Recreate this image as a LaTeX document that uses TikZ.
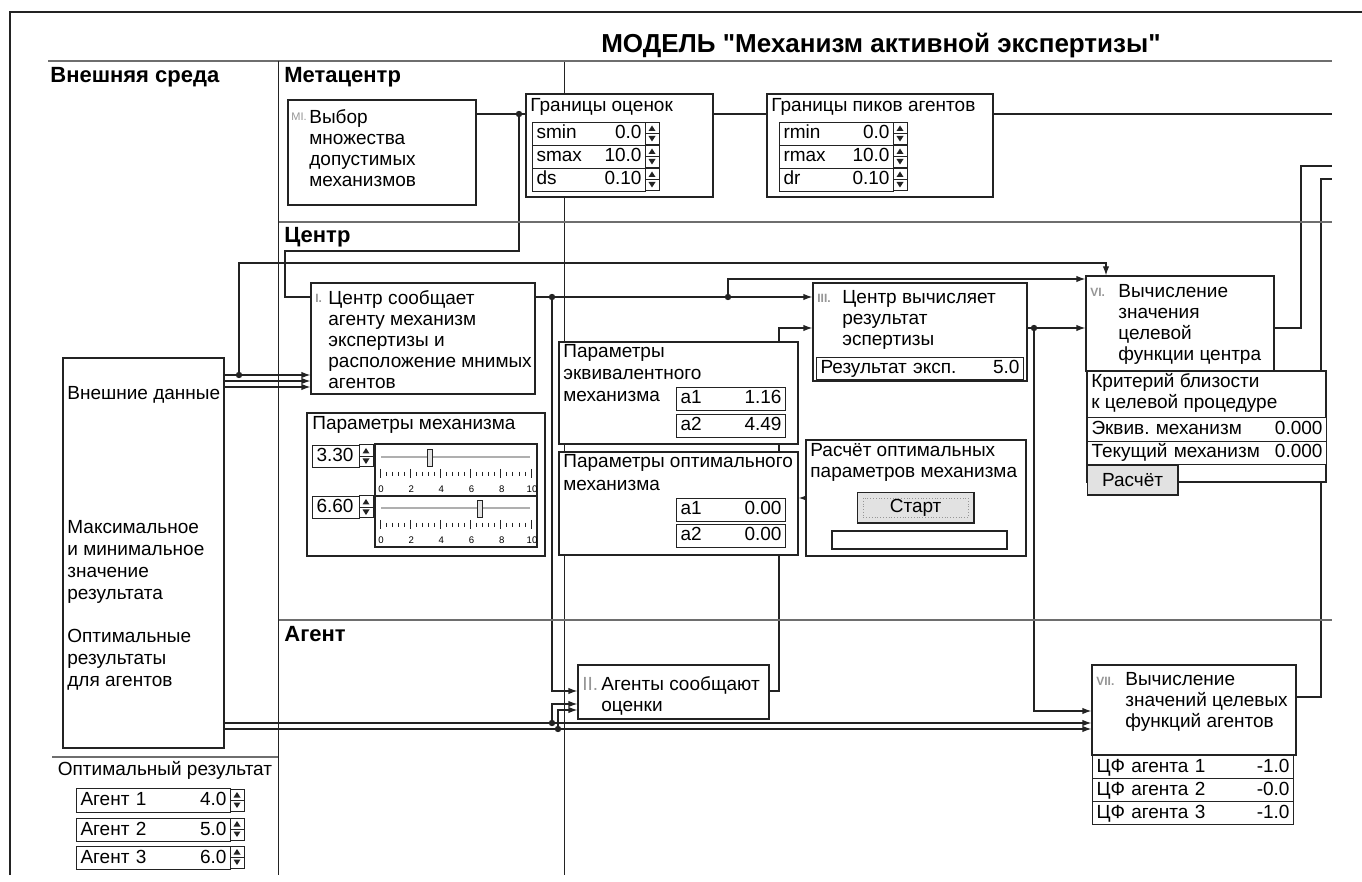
\documentclass[tikz,border=0pt]{standalone}
\usepackage{fontspec}
\setmainfont{Liberation Sans}
\usetikzlibrary{arrows.meta,fit}
\definecolor{linedark}{RGB}{35,35,35}
\definecolor{bandgray}{RGB}{110,110,110}
\definecolor{numgray}{RGB}{150,150,150}
\definecolor{btnfill}{RGB}{226,226,226}
\definecolor{trackgray}{RGB}{175,175,175}
\newcommand{\valsep}{\hspace{0pt plus 1filll}}
\pgfdeclarelayer{wires}
\pgfsetlayers{wires,main}
\tikzset{
  >={Latex[length=4.5pt,width=3.2pt]},
  box/.style={draw=linedark,line width=0.6pt,fill=white,inner sep=0pt},
  cellrow/.style={
    draw=linedark,
    line width=0.5pt,
    fill=white,
    anchor=north west,
    align=left,
    inner xsep=2pt,
    inner ysep=0pt,
    text height=6.8pt,
    text depth=1.8pt,
    minimum height=11.5pt,
    font=\fontsize{9.5}{10.5}\selectfont
  },
  btn/.style={draw=linedark,line width=0.6pt,fill=btnfill,inner sep=0pt,
    anchor=north west,font=\fontsize{9.5}{10.5}\selectfont},
  txt/.style={inner sep=0pt,anchor=base west,align=left,
    font=\fontsize{9.5}{10.5}\selectfont},
  lines/.style={txt,anchor=north west},
  stepno/.style={inner sep=0pt,anchor=base west,text=numgray,
    font=\fontsize{6}{7}\selectfont\bfseries},
  zone/.style={inner sep=0pt,anchor=base west,
    font=\fontsize{11}{13}\selectfont\bfseries},
  banner/.style={inner sep=0pt,anchor=base,
    font=\fontsize{13}{15}\selectfont\bfseries},
  scalelbl/.style={inner sep=0pt,anchor=base,font=\fontsize{4.8}{5}\selectfont},
  band/.style={draw=bandgray,line width=1pt},
  vrule/.style={draw=linedark,line width=0.5pt},
  wire/.style={draw=linedark,line width=0.6pt},
  arrow/.style={wire,->},
  spin/.pic={
    \draw[draw=linedark,line width=0.5pt,fill=white] (0,0) rectangle (14,22);
    \draw[linedark,line width=0.4pt] (0,11) -- (14,11);
    \fill[linedark] (7,3) -- (10.5,8.5) -- (3.5,8.5) -- cycle;
    \fill[linedark] (7,19) -- (10.5,13.5) -- (3.5,13.5) -- cycle;
  }
}

\begin{document}
\frenchspacing
\begin{tikzpicture}[x=0.5pt,y=-0.5pt]
  \useasboundingbox (0,0) rectangle (1362,882);

  % frame and zones
  \draw[linedark,line width=1pt] (10,875) -- (10,12) -- (1362,12);
  \draw[band] (48,61) -- (1332,61);
  \draw[band] (278,222) -- (1332,222);
  \draw[band] (278,620) -- (1332,620);
  \draw[band] (52,757) -- (278,757);
  \draw[vrule] (278,61) -- (278,875);

  \node[banner] (title) at (881,53) {МОДЕЛЬ \textquotedbl Механизм активной экспертизы\textquotedbl};
  \node[zone] (zExt) at (50,83) {Внешняя среда};
  \node[zone] (zMeta) at (284,83) {Метацентр};
  \node[zone] (zCen) at (284,243) {Центр};
  \node[zone] (zAg) at (284,641) {Агент};

  % Метацентр
  \node[box,fit={(288,100) (476,205)}] (mI) {};
  \node[stepno,font=\fontsize{5.5}{6}\selectfont] (mIn) at (291,121) {MI.};
  \node[lines] (mIt) at (309,109) {Выбор\\множества\\допустимых\\механизмов};

  \node[box,fit={(526,94) (713,197)}] (gO) {};
  \node[txt] (gOt) at (530,112) {Границы оценок};
  \node[cellrow,text width=52.5pt] (gO1) at (532,122) {smin\valsep 0.0};
  \node[cellrow,text width=52.5pt] (gO2) at (532,145) {smax\valsep 10.0};
  \node[cellrow,text width=52.5pt] (gO3) at (532,168) {ds\valsep 0.10};
  \pic at (645,122.5) {spin};
  \pic at (645,145.5) {spin};
  \pic at (645,168.5) {spin};

  \node[box,fit={(767,94) (993,197)}] (gP) {};
  \node[txt] (gPt) at (771,112) {Границы пиков агентов};
  \node[cellrow,text width=53pt] (gP1) at (779,122) {rmin\valsep 0.0};
  \node[cellrow,text width=53pt] (gP2) at (779,145) {rmax\valsep 10.0};
  \node[cellrow,text width=53pt] (gP3) at (779,168) {dr\valsep 0.10};
  \pic at (893,122.5) {spin};
  \pic at (893,145.5) {spin};
  \pic at (893,168.5) {spin};

  % Центр
  \node[box,fit={(311,283) (535,394)}] (nI) {};
  \node[stepno] (nIn) at (315,303) {I.};
  \node[lines] (nIt) at (328,290) {Центр сообщает\\агенту механизм\\экспертизы и\\расположение мнимых\\агентов};

  \node[box,fit={(307,413) (545,556)}] (pMech) {};
  \node[txt] (pMecht) at (312,430) {Параметры механизма};
  \node[cellrow,text width=19.5pt,minimum height=11pt] (v1) at (312,445) {3.30};
  \pic at (359,445) {spin};
  \node[cellrow,text width=19.5pt,minimum height=11pt] (v2) at (312,496) {6.60};
  \pic at (359,496) {spin};

  \node[box,fit={(375,444) (537,496)}] (sl1) {};
  \draw[trackgray,line width=1.2pt] (381,457) -- (530,457);
  \draw[draw=linedark,fill=btnfill,line width=0.4pt] (427,449) rectangle (432,466);
  \foreach \t in {0,...,25}
    \draw[linedark,line width=0.4pt] (380+\t*6.04,472) -- (380+\t*6.04,476);
  \foreach \t in {0,5,...,25}
    \draw[linedark,line width=0.5pt] (380+\t*6.04,469) -- (380+\t*6.04,478);
  \foreach \v in {0,2,...,10}
    \node[scalelbl] (sa\v) at (381+\v*15.1,493) {\v};

  \node[box,fit={(375,496) (537,547)}] (sl2) {};
  \draw[trackgray,line width=1.2pt] (381,508) -- (530,508);
  \draw[draw=linedark,fill=btnfill,line width=0.4pt] (477,500) rectangle (482,517);
  \foreach \t in {0,...,25}
    \draw[linedark,line width=0.4pt] (380+\t*6.04,523) -- (380+\t*6.04,527);
  \foreach \t in {0,5,...,25}
    \draw[linedark,line width=0.5pt] (380+\t*6.04,520) -- (380+\t*6.04,529);
  \foreach \v in {0,2,...,10}
    \node[scalelbl] (sb\v) at (381+\v*15.1,544) {\v};

  \node[box,fit={(559,342) (798,444)}] (pEq) {};
  \node[lines,font=\fontsize{9.5}{11}\selectfont] (pEqt) at (563,344) {Параметры\\эквивалентного\\механизма};
  \node[cellrow,text width=50.5pt] (pEq1) at (676,387) {a1\valsep 1.16};
  \node[cellrow,text width=50.5pt] (pEq2) at (676,414) {a2\valsep 4.49};

  \node[box,fit={(559,452) (798,555)}] (pOpt) {};
  \node[lines,font=\fontsize{9.5}{11.5}\selectfont] (pOptt) at (563,454) {Параметры оптимального\\механизма};
  \node[cellrow,text width=50.5pt] (pOpt1) at (676,498) {a1\valsep 0.00};
  \node[cellrow,text width=50.5pt] (pOpt2) at (676,524) {a2\valsep 0.00};

  \node[box,fit={(806,440) (1026,556)}] (calc) {};
  \node[lines] (calct) at (810,443) {Расчёт оптимальных\\параметров механизма};
  \node[btn,minimum width=58pt,minimum height=15pt] (start) at (857,492) {Старт};
  \draw[linedark,line width=1pt] (start.south west) -- (start.south east) -- (start.north east);
  \draw[numgray,densely dotted,line width=0.4pt]
    ([shift={(3pt,-3pt)}]start.north west) rectangle ([shift={(-3pt,3pt)}]start.south east);
  \node[box,fit={(832,531) (1007,549)}] (prog) {};

  \node[box,fit={(813,283) (1027,381)}] (nIII) {};
  \node[stepno] (nIIIn) at (817,303) {III.};
  \node[lines] (nIIIt) at (842,290) {Центр вычисляет\\результат\\эспертизы};
  \node[cellrow,text width=99.5pt,minimum height=11pt] (res) at (816,357) {Результат эксп.\valsep 5.0};

  \node[box,fit={(1086,276) (1274,371)}] (nVI) {};
  \node[stepno] (nVIn) at (1090,297) {VI.};
  \node[lines] (nVIt) at (1118,284) {Вычисление\\значения\\целевой\\функции центра};

  \node[box,fit={(1087,371) (1326,482)}] (crit) {};
  \node[lines] (critt) at (1091,373) {Критерий близости\\к целевой процедуре};
  \node[cellrow,text width=115.5pt,minimum height=12pt] (crit1) at (1087,417) {Эквив. механизм\valsep 0.000};
  \node[cellrow,text width=115.5pt] (crit2) at (1087,441) {Текущий механизм\valsep 0.000};
  \node[btn,minimum width=45pt,minimum height=14.5pt] (calcBtn) at (1087,465) {Расчёт};
  \draw[linedark,line width=1pt] (calcBtn.south west) -- (calcBtn.south east) -- (calcBtn.north east);

  % Агент
  \node[box,fit={(578,665) (769,719)}] (nII) {};
  \node[stepno,font=\fontsize{9.5}{10.5}\selectfont] (nIIn) at (582,690) {II.};
  \node[lines] (nIIt) at (601,676) {Агенты сообщают\\оценки};

  \node[box,fit={(1092,665) (1296,755)}] (nVII) {};
  \node[stepno] (nVIIn) at (1096,685) {VII.};
  \node[lines] (nVIIt) at (1125,672) {Вычисление\\значений целевых\\функций агентов};
  \node[cellrow,text width=96.5pt] (cf1) at (1092,755) {ЦФ агента 1\valsep -1.0};
  \node[cellrow,text width=96.5pt] (cf2) at (1092,778) {ЦФ агента 2\valsep -0.0};
  \node[cellrow,text width=96.5pt] (cf3) at (1092,801) {ЦФ агента 3\valsep -1.0};

  % Внешняя среда
  \node[box,fit={(63,358) (224,748)}] (ext) {};
  \node[txt] (extA) at (67,400) {Внешние данные};
  \node[lines,font=\fontsize{9.5}{11}\selectfont] (extB) at (67,520) {Максимальное\\и минимальное\\значение\\результата};
  \node[lines,font=\fontsize{9.5}{11}\selectfont] (extC) at (67,629) {Оптимальные\\результаты\\для агентов};

  \node[txt,anchor=base] (optT) at (165,775) {Оптимальный результат};
  \node[cellrow,text width=73pt,minimum height=12pt] (opt1) at (76,788) {Агент 1\valsep 4.0};
  \node[cellrow,text width=73pt] (opt2) at (76,818) {Агент 2\valsep 5.0};
  \node[cellrow,text width=73pt] (opt3) at (76,846) {Агент 3\valsep 6.0};
  \pic at (230,789) {spin};
  \pic at (230,818) {spin};
  \pic at (230,846) {spin};

  % junctions and free ends
  \coordinate (jM) at (519,114);
  \coordinate (jE) at (239,375);
  \coordinate (jI1) at (552,297);
  \coordinate (jI2) at (728,297);
  \coordinate (jIII) at (1034,328);
  \coordinate (jA1) at (552,723);
  \coordinate (jA2) at (558,729);
  \coordinate (outM) at (1332,114);
  \coordinate (outVI) at (1332,166);
  \coordinate (outVII) at (1332,179);

  \begin{pgfonlayer}{wires}
    \draw[vrule] (564,61) -- (564,875);
    \draw[wire] (mI.east |- jM) -- (gO.west |- jM);
    \draw[wire] (gO.east |- jM) -- (gP.west |- jM);
    \draw[wire] (gP.east |- jM) -- (outM);
    \draw[wire] (jM) |- (285,251) |- (nI.west |- 0,297);
    \draw[arrow] (ext.east |- jE) -- (nI.west |- jE);
    \draw[arrow] (ext.east |- 0,381) -- (nI.west |- 0,381);
    \draw[arrow] (ext.east |- 0,387) -- (nI.west |- 0,387);
    \draw[arrow] (jE) |- (1106,263) -- (1106,0 |- nVI.north);
    \draw[arrow] (nI.east |- jI1) -- (nIII.west |- jI1);
    \draw[arrow] (jI1) |- (nII.west |- 0,691);
    \draw[arrow] (jI2) |- (nVI.west |- 0,279);
    \draw[arrow] (nII.east |- 0,691) -| (779,328) -- (nIII.west |- 0,328);
    \draw[arrow] (calc.west |- 0,498) -- (pOpt.east |- 0,498);
    \draw[arrow] (nIII.east |- jIII) -- (nVI.west |- jIII);
    \draw[arrow] (jIII) |- (nVII.west |- 0,711);
    \draw[wire] (nVI.east |- jIII) -| (1301,166) -- (outVI);
    \draw[wire] (nVII.east |- 0,697) -| (1321,179) -- (outVII);
    \draw[arrow] (ext.east |- jA1) -- (nVII.west |- jA1);
    \draw[arrow] (ext.east |- jA2) -- (nVII.west |- jA2);
    \draw[arrow] (jA1) |- (nII.west |- 0,704);
    \draw[arrow] (jA2) |- (nII.west |- 0,710);
  \end{pgfonlayer}

  \foreach \j in {jM,jE,jI1,jI2,jIII,jA1,jA2}
    \fill[linedark] (\j) circle (1.6pt);

\end{tikzpicture}
\end{document}
